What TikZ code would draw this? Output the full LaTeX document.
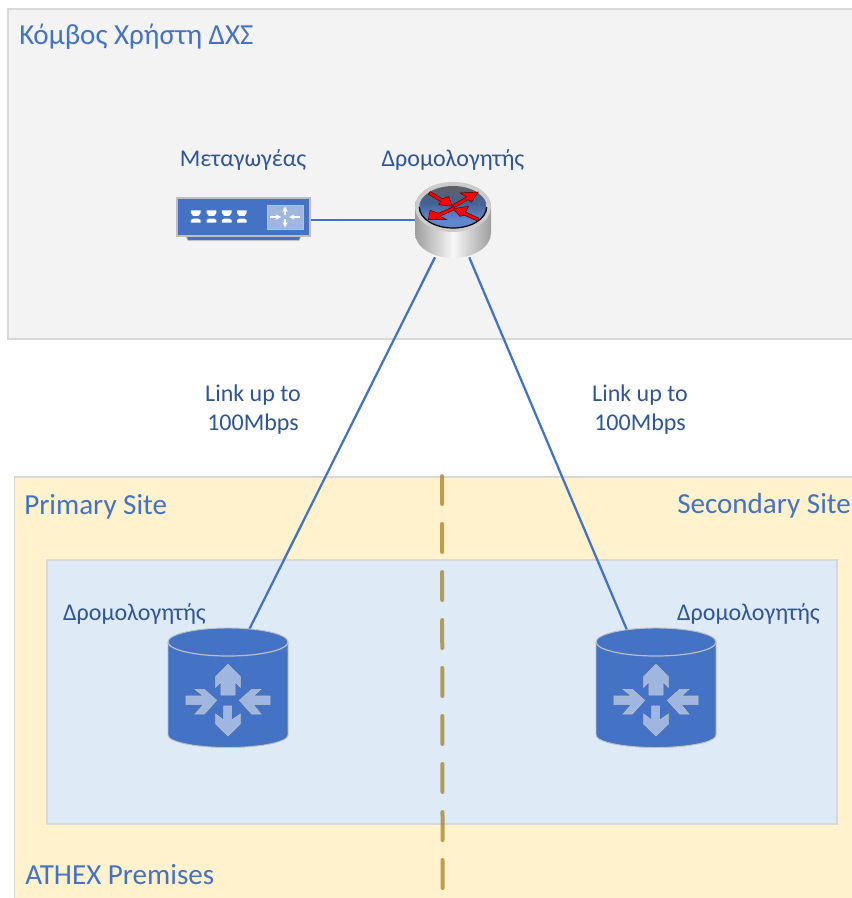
\documentclass[tikz,border=0pt]{standalone}
\usepackage{fontspec}
\setmainfont{Carlito}
\usetikzlibrary{shadings}
\definecolor{linkblue}{HTML}{4472C4}
\definecolor{darkblue}{HTML}{2F5597}
\definecolor{lightarrow}{HTML}{9FB6E0}
\definecolor{panelgrey}{HTML}{F3F3F3}
\definecolor{edgegrey}{HTML}{D8D8D8}
\definecolor{sand}{HTML}{FFF2CC}
\definecolor{paleblue}{HTML}{DEEAF6}
\definecolor{dashgold}{HTML}{98730E}
\definecolor{iconedge}{HTML}{BFBFBF}
\pgfdeclareverticalshading{routertop}{100bp}{
  color(0bp)=(linkblue!85!white); color(35bp)=(linkblue!85!white); color(55bp)=(linkblue!70!black!90); color(75bp)=(black!62); color(100bp)=(black!62)}
\tikzset{
  panel/.style={draw=edgegrey,line width=1pt},
  link/.style={draw=linkblue,line width=1.7pt},
  big/.style={text=linkblue,font=\fontsize{21.8}{24}\selectfont,inner sep=0pt,anchor=base west},
  small/.style={text=darkblue,font=\fontsize{18}{21.75}\selectfont,inner sep=0pt,align=center},
  anchorbox/.style={inner sep=0pt,outer sep=0pt},
  cylarrow/.style={fill=lightarrow,draw=iconedge,line width=0.4pt},
  redarrow/.style={fill=red,draw=black!70!red,line width=0.35pt},
}
\newcommand{\cylrouter}[1]{%
  \begin{scope}[shift={(#1,0)}]
    \fill[linkblue,draw=iconedge,line width=0.7pt] (168,642) -- (168,735) arc[start angle=180,end angle=0,x radius=60,y radius=12.5] -- (288,642) arc[start angle=0,end angle=-180,x radius=60,y radius=14] -- cycle;
    \draw[iconedge,line width=0.9pt] (168,642) arc[start angle=180,end angle=0,x radius=60,y radius=14];
    \begin{scope}[shift={(150,610)},x=0.25pt,y=-0.25pt]
      \draw[cylarrow] (234,163)--(197,200)--(197,232)--(213,215)--(213,255)--(255,255)--(255,215)--(271,232)--(271,200)--cycle;
      \draw[cylarrow] (234,378)--(197,342)--(197,312)--(221,330)--(221,288)--(245,288)--(245,330)--(271,312)--(271,342)--cycle;
      \draw[cylarrow] (200,271)--(163,238)--(135,238)--(160,258)--(108,258)--(108,284)--(160,284)--(135,312)--(163,312)--cycle;
      \draw[cylarrow] (268,271)--(305,238)--(333,238)--(310,258)--(360,258)--(360,284)--(310,284)--(333,312)--(305,312)--cycle;
    \end{scope}
  \end{scope}}
\newcommand{\portglyph}[1]{%
  \fill[white] (#1-4.8,210.3)--(#1+4.8,210.3)--(#1+4.8,213)--(#1+2.6,216)--(#1-2.6,216)--(#1-4.8,213)--cycle;
  \fill[white] (#1-2.6,218.7)--(#1+2.6,218.7)--(#1+4.8,220)--(#1+4.8,222.7)--(#1-4.8,222.7)--(#1-4.8,220)--cycle;}
\begin{document}
\begin{tikzpicture}[x=0.75pt,y=-0.75pt]
\useasboundingbox (0,0) rectangle (851,898);
\fill[white] (0,0) rectangle (851,898);
% panels
\path[panel,fill=panelgrey] (8,9) rectangle (856,339);
\path[panel,fill=sand] (14.5,477) rectangle (856,903);
\path[panel,fill=paleblue] (47,560) rectangle (837,824);
\draw[dashgold,draw opacity=0.65,line width=3pt,line cap=round,dash pattern=on 21pt off 15pt] (442,476) -- (442.6,890);
% anchor nodes for icons
\node[anchorbox,minimum width=100pt,minimum height=30pt] (sw) at (243.5,220) {};
\node[anchorbox,minimum width=57pt,minimum height=56pt] (rt) at (453.5,220) {};
\coordinate (hubA) at (220,688);
\coordinate (hubB) at (651.5,688);
% connectors
\draw[link] (sw) -- (rt);
\draw[link] (rt) -- (hubA);
\draw[link] (rt) -- (hubB);
% switch icon
\path[fill=linkblue,draw=iconedge,line width=0.4pt] (185,234) -- (302,234) -- (299,240.5) -- (188,240.5) -- cycle;
\path[fill=linkblue,draw=iconedge,line width=0.8pt] (177,198) rectangle (310,236);
\portglyph{195.7}\portglyph{211.5}\portglyph{226.7}\portglyph{241.8}
\path[fill=lightarrow,draw=iconedge,line width=0.6pt] (267,205) rectangle (303,229);
\begin{scope}[white,line width=0.8pt]
  \draw[-stealth] (270,217) -- (281,217);
  \draw[-stealth] (300,217) -- (289,217);
  \draw[-stealth] (285,215) -- (285,206.5);
  \draw[-stealth] (285,219) -- (285,227.5);
\end{scope}
% router icon (silver)
\shade[left color=black!38,right color=black!38,middle color=white!97!black]
  (415,207) -- (415,233) arc[start angle=180,end angle=0,x radius=38,y radius=25] -- (491,207) arc[start angle=0,end angle=-180,x radius=38,y radius=25] -- cycle;
\fill[black!20] (453,207) ellipse[x radius=38,y radius=25];
\shade[shading=routertop] (453,207) ellipse[x radius=33.7,y radius=21];
\draw[black,line width=0.9pt] (419.3,207) arc[start angle=180,end angle=0,x radius=33.7,y radius=21];
\begin{scope}[shift={(410,178)},x=0.25pt,y=-0.25pt]
  \draw[redarrow] (55.5,49.3)--(91.6,70.3)--(86,80)--(127,85)--(116,56)--(96.6,61.7)--(60.5,40.7)--cycle;
  \draw[redarrow] (132.5,89.3)--(174.5,65.3)--(185,72)--(205,42)--(150,45)--(169.5,56.7)--(127.5,80.7)--cycle;
  \draw[redarrow] (135,94.5)--(90,114.5)--(110,125)--(55,125)--(60,97)--(86,105.5)--(131,85.5)--cycle;
  \draw[redarrow] (203,129.6)--(163,111.6)--(150,115)--(130,92)--(175,85)--(167,102.4)--(207,120.4)--cycle;
\end{scope}
% cylinder routers
\cylrouter{0}
\cylrouter{428}
% labels
\node[big] (t1) at (19,45) {Κόμβος Χρήστη ΔΧΣ};
\node[big] (t2) at (24,514) {Primary Site};
\node[big] (t3) at (677,513) {Secondary Site};
\node[big] (t4) at (25,884) {ATHEX Premises};
\node[small] (l1) at (243,159.5) {Μεταγωγέας};
\node[small] (l2) at (453,159.5) {Δρομολογητής};
\node[small] (l3) at (134.5,613.5) {Δρομολογητής};
\node[small] (l4) at (748.5,613.5) {Δρομολογητής};
\node[small] (l5) at (253,410) {Link up to\\100Mbps};
\node[small] (l6) at (640,410) {Link up to\\100Mbps};
\end{tikzpicture}
\end{document}
